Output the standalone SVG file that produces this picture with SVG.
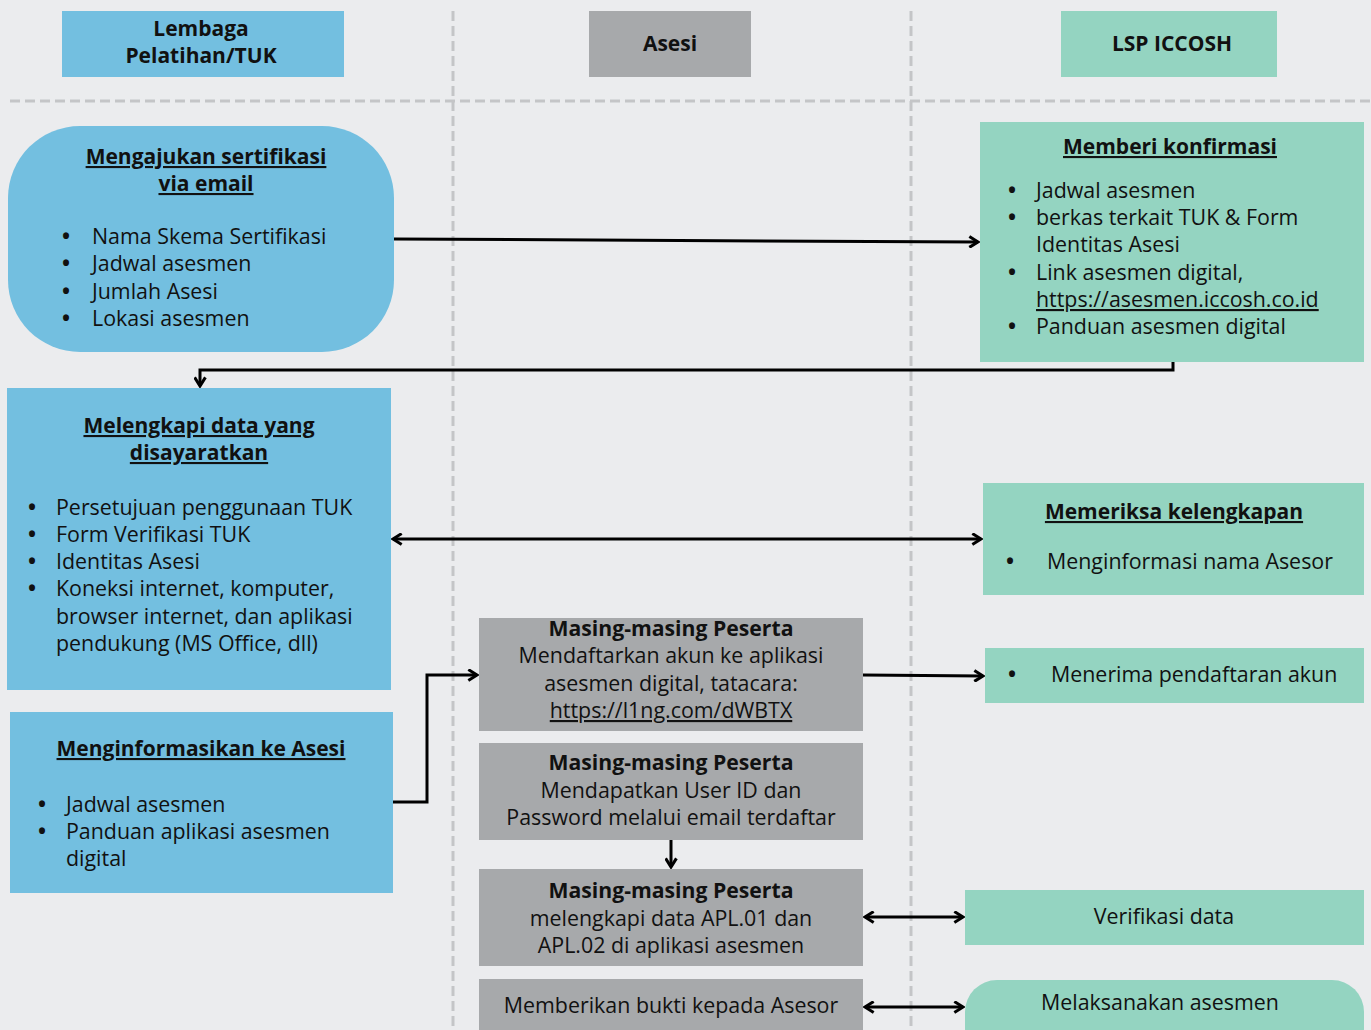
<svg xmlns="http://www.w3.org/2000/svg" width="1371" height="1030" viewBox="0 0 1371 1030">
<defs>
<style>
.bg{fill:#ebecee}
.blue{fill:#73bfe0}
.grey{fill:#a7a9ab}
.green{fill:#94d4c1}
.dash{stroke:#c4c5c7;stroke-width:3;stroke-dasharray:10 5;fill:none}
.con{stroke:#000;stroke-width:3;fill:none}
text{font-family:"Open Sans",Lato,"Liberation Sans",sans-serif;fill:#111;font-size:21.4px}
.h{font-weight:bold;font-size:21px;text-anchor:middle}
.t{font-weight:bold;font-size:21px;text-decoration:underline;text-anchor:middle}
.b{font-weight:bold;font-size:21.2px;text-anchor:middle}
.c{text-anchor:middle}
.u{text-decoration:underline}
.d{font-weight:bold}
</style>
<marker id="ah" viewBox="0 0 12 12" refX="10" refY="6" markerWidth="13" markerHeight="13" markerUnits="userSpaceOnUse" orient="auto-start-reverse">
<path d="M2,1 L10,6 L2,11" fill="none" stroke="#000" stroke-width="2.8"/>
</marker>
</defs>
<rect class="bg" x="0" y="0" width="1371" height="1030"/>
<g id="lanes">
<line class="dash" x1="10" y1="101" x2="1371" y2="101"/>
<line class="dash" x1="453" y1="11" x2="453" y2="1030"/>
<line class="dash" x1="911" y1="11" x2="911" y2="1030"/>
</g>
<g id="hdr-lembaga">
<rect class="blue" x="62" y="11" width="282" height="66"/>
<text class="h" x="201" y="36">Lembaga</text>
<text class="h" x="201" y="63">Pelatihan/TUK</text>
</g>
<g id="hdr-asesi">
<rect class="grey" x="589" y="11" width="162" height="66"/>
<text class="h" x="670" y="51">Asesi</text>
</g>
<g id="hdr-lsp">
<rect class="green" x="1061" y="11" width="216" height="66"/>
<text class="h" x="1172" y="51">LSP ICCOSH</text>
</g>
<g id="connectors">
<path class="con" d="M394,239 L978,242" marker-end="url(#ah)"/>
<path class="con" d="M1173,362 V370 H200 V386" marker-end="url(#ah)"/>
<path class="con" d="M393,539 H981" marker-start="url(#ah)" marker-end="url(#ah)"/>
<path class="con" d="M863,675 L983,676" marker-end="url(#ah)"/>
<path class="con" d="M393,802 H427 V675 H477" marker-end="url(#ah)"/>
<path class="con" d="M671,840 V867" marker-end="url(#ah)"/>
<path class="con" d="M865,917 H963" marker-start="url(#ah)" marker-end="url(#ah)"/>
<path class="con" d="M865,1007 H963" marker-start="url(#ah)" marker-end="url(#ah)"/>
</g>
<g id="n-mengajukan">
<rect class="blue" x="8" y="126" width="386" height="226" rx="72" ry="72"/>
<text class="t" x="206" y="164">Mengajukan sertifikasi</text>
<text class="t" x="206" y="191">via email</text>
<text x="62" y="244"><tspan class="d">•</tspan><tspan x="92">Nama Skema Sertifikasi</tspan></text>
<text x="62" y="271"><tspan class="d">•</tspan><tspan x="92">Jadwal asesmen</tspan></text>
<text x="62" y="299"><tspan class="d">•</tspan><tspan x="92">Jumlah Asesi</tspan></text>
<text x="62" y="326"><tspan class="d">•</tspan><tspan x="92">Lokasi asesmen</tspan></text>
</g>
<g id="n-konfirmasi">
<rect class="green" x="980" y="122" width="384" height="240"/>
<text class="t" x="1170" y="154">Memberi konfirmasi</text>
<text x="1008" y="198"><tspan class="d">•</tspan><tspan x="1036">Jadwal asesmen</tspan></text>
<text x="1008" y="225"><tspan class="d">•</tspan><tspan x="1036">berkas terkait TUK &amp; Form</tspan></text>
<text x="1036" y="252">Identitas Asesi</text>
<text x="1008" y="280"><tspan class="d">•</tspan><tspan x="1036">Link asesmen digital,</tspan></text>
<text class="u" x="1036" y="307">https://asesmen.iccosh.co.id</text>
<text x="1008" y="334"><tspan class="d">•</tspan><tspan x="1036">Panduan asesmen digital</tspan></text>
</g>
<g id="n-melengkapi">
<rect class="blue" x="7" y="388" width="384" height="302"/>
<text class="t" x="199" y="433">Melengkapi data yang</text>
<text class="t" x="199" y="460">disayaratkan</text>
<text x="28" y="515"><tspan class="d">•</tspan><tspan x="56">Persetujuan penggunaan TUK</tspan></text>
<text x="28" y="542"><tspan class="d">•</tspan><tspan x="56">Form Verifikasi TUK</tspan></text>
<text x="28" y="569"><tspan class="d">•</tspan><tspan x="56">Identitas Asesi</tspan></text>
<text x="28" y="596"><tspan class="d">•</tspan><tspan x="56">Koneksi internet, komputer,</tspan></text>
<text x="56" y="624">browser internet, dan aplikasi</text>
<text x="56" y="651">pendukung (MS Office, dll)</text>
</g>
<g id="n-memeriksa">
<rect class="green" x="983" y="483" width="381" height="112"/>
<text class="t" x="1174" y="519">Memeriksa kelengkapan</text>
<text x="1006" y="569"><tspan class="d">•</tspan><tspan x="1047">Menginformasi nama Asesor</tspan></text>
</g>
<g id="n-menerima">
<rect class="green" x="985" y="648" width="379" height="55"/>
<text x="1008" y="682"><tspan class="d">•</tspan><tspan x="1051">Menerima pendaftaran akun</tspan></text>
</g>
<g id="n-daftar">
<rect class="grey" x="479" y="618" width="384" height="113"/>
<text class="b" x="671" y="636">Masing-masing Peserta</text>
<text class="c" x="671" y="663">Mendaftarkan akun ke aplikasi</text>
<text class="c" x="671" y="691">asesmen digital, tatacara:</text>
<text class="c u" x="671" y="718">https://l1ng.com/dWBTX</text>
</g>
<g id="n-informasikan">
<rect class="blue" x="10" y="712" width="383" height="181"/>
<text class="t" x="201" y="756">Menginformasikan ke Asesi</text>
<text x="38" y="812"><tspan class="d">•</tspan><tspan x="66">Jadwal asesmen</tspan></text>
<text x="38" y="839"><tspan class="d">•</tspan><tspan x="66">Panduan aplikasi asesmen</tspan></text>
<text x="66" y="866">digital</text>
</g>
<g id="n-userid">
<rect class="grey" x="479" y="743" width="384" height="97"/>
<text class="b" x="671" y="770">Masing-masing Peserta</text>
<text class="c" x="671" y="798">Mendapatkan User ID dan</text>
<text class="c" x="671" y="825">Password melalui email terdaftar</text>
</g>
<g id="n-apl">
<rect class="grey" x="479" y="869" width="384" height="97"/>
<text class="b" x="671" y="898">Masing-masing Peserta</text>
<text class="c" x="671" y="926">melengkapi data APL.01 dan</text>
<text class="c" x="671" y="953">APL.02 di aplikasi asesmen</text>
</g>
<g id="n-verifikasi">
<rect class="green" x="965" y="890" width="399" height="55"/>
<text class="c" x="1164" y="924">Verifikasi data</text>
</g>
<g id="n-bukti">
<rect class="grey" x="479" y="979" width="384" height="60"/>
<text class="c" x="671" y="1013">Memberikan bukti kepada Asesor</text>
</g>
<g id="n-melaksanakan">
<rect class="green" x="965" y="980" width="399" height="80" rx="32" ry="32"/>
<text class="c" x="1160" y="1010">Melaksanakan asesmen</text>
</g>
</svg>
